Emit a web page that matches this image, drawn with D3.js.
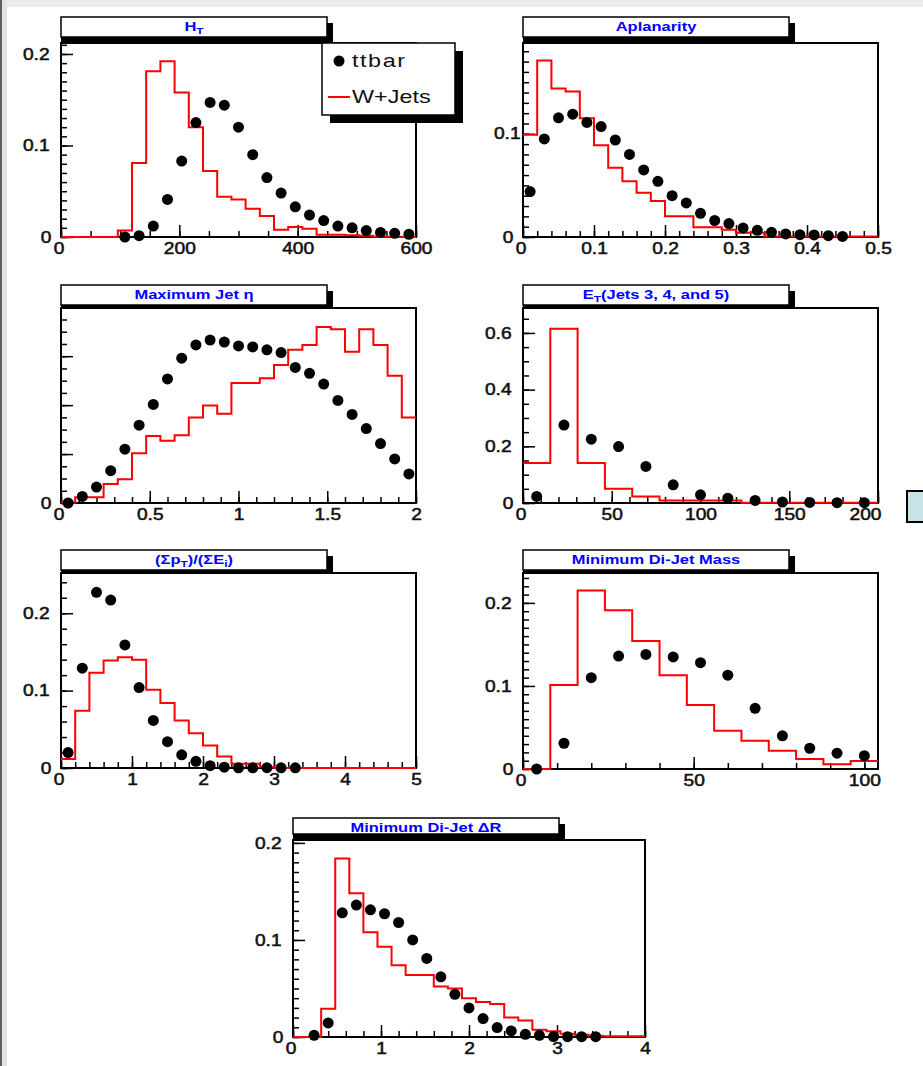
<!DOCTYPE html>
<html>
<head>
<meta charset="utf-8">
<script src="https://cdn.jsdelivr.net/npm/d3@7"></script>
<style>
body { margin: 0; background: #fff; }
svg { display: block; font-family: "Liberation Sans", Arial, sans-serif; }
</style>
</head>
<body>
<svg id="chart" width="923" height="1066"></svg>
<script>
// binning: [min, max, nbins]
const htBins = [0, 600, 25];
const htWjets = [0, 0, 0, 0, 0.007, 0.081, 0.181, 0.192, 0.158, 0.120, 0.072, 0.044, 0.041, 0.031, 0.023, 0.008, 0.011, 0.009, 0.0025, 0.0025, 0.002, 0.0015, 0.0003, 0.0003, 0];
const htTtbar = [null, null, null, null, 0.0, 0.0015, 0.012, 0.041, 0.083, 0.125, 0.147, 0.144, 0.120, 0.090, 0.065, 0.048, 0.033, 0.024, 0.018, 0.012, 0.010, 0.007, 0.005, 0.004, 0.003];

const aplBins = [0, 0.5, 25];
const aplWjets = [0.099, 0.171, 0.144, 0.141, 0.115, 0.089, 0.067, 0.054, 0.043, 0.035, 0.020, 0.020, 0.0094, 0.0094, 0.007, 0.004, 0.004, 0.0006, 0.0006, 0.0006, 0.0006, 0.0006, 0.0006, 0.0006, 0.0006];
const aplTtbar = [0.044, 0.095, 0.1155, 0.119, 0.111, 0.107, 0.094, 0.080, 0.065, 0.054, 0.040, 0.033, 0.023, 0.016, 0.013, 0.0087, 0.0065, 0.0045, 0.003, 0.0023, 0.002, 0.0013, 0.0006];

const etaBins = [0, 2, 25];
const etaWjets = [0.0002, 0.0023, 0.0023, 0.0078, 0.0097, 0.0203, 0.0274, 0.0254, 0.0277, 0.0349, 0.0399, 0.0365, 0.049, 0.049, 0.051, 0.0564, 0.0626, 0.0646, 0.0719, 0.071, 0.0618, 0.071, 0.0646, 0.052, 0.0349];
const etaTtbar = [0.0, 0.0027, 0.0065, 0.0132, 0.022, 0.0318, 0.0403, 0.0507, 0.0592, 0.0646, 0.0666, 0.0658, 0.0642, 0.0638, 0.0626, 0.0615, 0.0554, 0.053, 0.0486, 0.0419, 0.0362, 0.0304, 0.0243, 0.018, 0.0119];

const etBins = [0, 200, 13];
const etWjets = [0.141, 0.615, 0.141, 0.050, 0.023, 0.009, 0.009, 0.009, 0.001, 0.001, 0.001, 0.001, 0.001];
const etTtbar = [0.023, 0.275, 0.225, 0.199, 0.129, 0.064, 0.029, 0.017, 0.009, 0.0035, 0.002, 0.001, 0.001];

const ptBins = [0, 5, 25];
const ptWjets = [0.0116, 0.074, 0.123, 0.139, 0.143, 0.140, 0.101, 0.084, 0.0615, 0.045, 0.029, 0.015, 0.0056, 0.0056, 0.0013, 0, 0, 0, 0, 0, 0, 0, 0, 0, 0];
const ptTtbar = [0.020, 0.129, 0.227, 0.217, 0.159, 0.104, 0.0615, 0.034, 0.017, 0.0086, 0.003, 0.001, 0.0003, 0.0003, 0.0004, 0.0003, 0.0002];

const massBins = [0, 104, 13];
const massWjets = [0, 0.101, 0.215, 0.191, 0.154, 0.113, 0.077, 0.046, 0.034, 0.022, 0.012, 0.0056, 0.0097];
const massTtbar = [0.0, 0.031, 0.110, 0.136, 0.138, 0.135, 0.128, 0.113, 0.073, 0.040, 0.025, 0.019, 0.016];

const drBins = [0, 4, 25];
const drWjets = [0, 0, 0.029, 0.184, 0.148, 0.108, 0.093, 0.074, 0.064, 0.064, 0.052, 0.050, 0.040, 0.036, 0.034, 0.020, 0.017, 0.0076, 0.006, 0.0034, 0.0024, 0.0014, 0.0007, 0.0007, 0.0007];
const drTtbar = [null, 0.0017, 0.0145, 0.128, 0.136, 0.131, 0.127, 0.118, 0.100, 0.081, 0.062, 0.044, 0.030, 0.019, 0.0097, 0.0062, 0.0028, 0.0017, 0.0005, 0.0003, 0.0003, 0.0003];

// titles, [text, subscript?] pieces
const htTitle = [['H'], ['T', 1]];
const aplTitle = [['Aplanarity']];
const etaTitle = [['Maximum Jet \u03b7']];
const etTitle = [['E'], ['T', 1], ['(Jets 3, 4, and 5)']];
const ptTitle = [['(\u03a3p'], ['T', 1], [')/(\u03a3E'], ['i', 1], [')']];
const massTitle = [['Minimum Di-Jet Mass']];
const drTitle = [['Minimum Di-Jet \u0394R']];

const legendLabels = ['ttbar', 'W+Jets'];

const svg = d3.select('#chart');
const W = 923, H = 1066;

// window chrome
svg.append('rect').attr('width', W).attr('height', H).attr('fill', '#fff');
svg.append('rect').attr('width', W).attr('height', 7).attr('fill', '#ebebeb');
svg.append('rect').attr('width', 7).attr('height', H).attr('fill', '#e3e3e3');
svg.append('rect').attr('width', 2).attr('height', H).attr('fill', '#5f5f5f');
svg.append('rect').attr('x', 907).attr('y', 491).attr('width', 20).attr('height', 31)
  .attr('fill', '#c8e4e6').attr('stroke', '#000').attr('stroke-width', 2);

const fmt = d => String(+d.toFixed(3));

const panels = [
  { bins: htBins, red: htWjets, pts: htTtbar, title: htTitle, ymax: 0.212,
    frame: [61, 416, 43, 237], tbox: [17, 37],
    xLab: 200, xMin: 50, yLab: 0.1, yMin: 0.01 },
  { bins: aplBins, red: aplWjets, pts: aplTtbar, title: aplTitle, ymax: 0.188,
    frame: [523, 878, 43, 237], tbox: [17, 37],
    xLab: 0.1, xMin: 0.02, yLab: 0.1, yMin: 0.01, yPad: -2 },
  { bins: etaBins, red: etaWjets, pts: etaTtbar, title: etaTitle, ymax: 0.0797,
    frame: [61, 416, 308, 503], tbox: [285, 305],
    xLab: 0.5, xMin: 0.1, yLab: 0.02, yMin: 0.005, onlyZero: true },
  { bins: etBins, red: etWjets, pts: etTtbar, title: etTitle, ymax: 0.688,
    frame: [523, 878, 308, 503], tbox: [285, 305],
    xLab: 50, xMin: 10, yLab: 0.2, yMin: 0.05, lastShift: -13 },
  { bins: ptBins, red: ptWjets, pts: ptTtbar, title: ptTitle, ymax: 0.252,
    frame: [61, 416, 573, 768], tbox: [550, 570],
    xLab: 1, xMin: 0.2, yLab: 0.1, yMin: 0.02 },
  { bins: massBins, red: massWjets, pts: massTtbar, title: massTitle, ymax: 0.236,
    frame: [523, 878, 573, 769], tbox: [550, 570],
    xLab: 50, xMin: 10, yLab: 0.1, yMin: 0.01 },
  { bins: drBins, red: drWjets, pts: drTtbar, title: drTitle, ymax: 0.203,
    frame: [293, 645, 840, 1037], tbox: [818, 834],
    xLab: 1, xMin: 0.2, yLab: 0.1, yMin: 0.01 }
];

function steps(lo, hi, step) {
  return d3.range(0, Math.floor((hi - lo) / step + 1e-6) + 1).map(i => lo + i * step);
}

function drawTitle(g, p) {
  const [fx0] = p.frame;
  const [ty0, ty1] = p.tbox;
  const tx1 = fx0 + 266;
  g.append('rect').attr('x', fx0).attr('y', ty0 + 6).attr('width', tx1 - fx0 + 6)
    .attr('height', p.frame[2] - ty0 - 6).attr('fill', '#000');
  g.append('rect').attr('x', fx0).attr('y', ty0).attr('width', tx1 - fx0).attr('height', ty1 - ty0)
    .attr('fill', '#fff').attr('stroke', '#000').attr('stroke-width', 1.5);
  const t = g.append('text')
    .attr('transform', `translate(${(fx0 + tx1) / 2},${ty0 + 14}) scale(1.32,1)`)
    .attr('text-anchor', 'middle').attr('font-size', 12.5).attr('font-weight', 'bold')
    .attr('fill', '#0000ff');
  p.title.forEach(([s, sub], i) => {
    const ts = t.append('tspan').text(s);
    if (sub) ts.attr('dy', 3).attr('font-size', 9);
    else if (i > 0 && p.title[i - 1][1]) ts.attr('dy', -3);
  });
}

function drawPanel(p) {
  const g = svg.append('g');
  const [fx0, fx1, fy0, fy1] = p.frame;
  const [lo, hi, n] = p.bins;
  const bw = (hi - lo) / n;
  const x = d3.scaleLinear().domain([lo, hi]).range([fx0, fx1]);
  const y = d3.scaleLinear().domain([0, p.ymax]).range([fy1, fy0]);

  drawTitle(g, p);

  g.append('rect').attr('x', fx0).attr('y', fy0).attr('width', fx1 - fx0).attr('height', fy1 - fy0)
    .attr('fill', '#fff').attr('stroke', '#000').attr('stroke-width', 2);

  // minor ticks
  const xm = g.append('g').attr('transform', `translate(0,${fy1})`)
    .call(d3.axisBottom(x).tickValues(steps(lo, hi, p.xMin)).tickSize(-6).tickFormat(''));
  const ym = g.append('g').attr('transform', `translate(${fx0},0)`)
    .call(d3.axisLeft(y).tickValues(steps(0, p.ymax, p.yMin)).tickSize(-6).tickFormat(''));

  // major ticks + labels
  const xa = g.append('g').attr('transform', `translate(0,${fy1})`)
    .call(d3.axisBottom(x).tickValues(steps(lo, hi, p.xLab)).tickSize(-12).tickPadding(6).tickFormat(fmt));
  const ya = g.append('g').attr('transform', `translate(${fx0},0)`)
    .call(d3.axisLeft(y).tickValues(steps(0, p.ymax, p.yLab)).tickSize(-12).tickPadding(10)
      .tickFormat(d => (p.onlyZero && d !== 0) ? '' : fmt(d)));

  [xm, ym, xa, ya].forEach(a => {
    a.select('.domain').remove();
    a.selectAll('line').attr('stroke', '#000').attr('stroke-width', 1.5);
  });
  [xa, ya].forEach(a => a.selectAll('text')
    .attr('font-size', 16).attr('fill', '#111').attr('stroke', '#111').attr('stroke-width', 0.5)
    .attr('font-family', '"Liberation Sans", Arial, sans-serif'));
  xa.selectAll('text').attr('transform', 'scale(1.2,1)')
    .attr('x', d => d === lo ? -2 : (d === hi && p.lastShift ? p.lastShift / 1.2 : 0));
  ya.selectAll('text').attr('transform', 'scale(1.2,1)')
    .attr('x', d => d === 0 ? -8 : (p.yPad !== undefined ? p.yPad : -9.5));

  // W+Jets histogram
  const hist = p.red.map((v, i) => [lo + i * bw, v]);
  hist.push([hi, p.red[n - 1]]);
  g.append('path').datum(hist)
    .attr('d', d3.line().curve(d3.curveStepAfter).x(d => x(d[0])).y(d => y(d[1])))
    .attr('fill', 'none').attr('stroke', '#ff0000').attr('stroke-width', 2);

  // ttbar markers
  g.selectAll('circle.pt')
    .data(p.pts.map((v, i) => [lo + (i + 0.5) * bw, v]).filter(d => d[1] !== null))
    .enter().append('circle').attr('class', 'pt')
    .attr('cx', d => x(d[0])).attr('cy', d => y(d[1]))
    .attr('r', 5.5).attr('fill', '#000');
}

panels.forEach(drawPanel);

// legend on the H_T panel
const leg = svg.append('g');
leg.append('rect').attr('x', 330).attr('y', 51).attr('width', 133).attr('height', 72).attr('fill', '#000');
leg.append('rect').attr('x', 322).attr('y', 43).attr('width', 133).attr('height', 72)
  .attr('fill', '#fff').attr('stroke', '#000').attr('stroke-width', 1.5);
leg.append('circle').attr('cx', 339).attr('cy', 61).attr('r', 5.5).attr('fill', '#000');
leg.append('line').attr('x1', 328).attr('x2', 350).attr('y1', 97).attr('y2', 97)
  .attr('stroke', '#ff0000').attr('stroke-width', 2);
leg.selectAll('text.lg').data(legendLabels).enter().append('text').attr('class', 'lg')
  .attr('transform', (d, i) => `translate(352,${i === 0 ? 67 : 103}) scale(1.3,1)`)
  .attr('font-size', 18).attr('fill', '#111')
  .attr('letter-spacing', (d, i) => i === 0 ? 1.2 : 0)
  .text(d => d);
</script>
</body>
</html>
